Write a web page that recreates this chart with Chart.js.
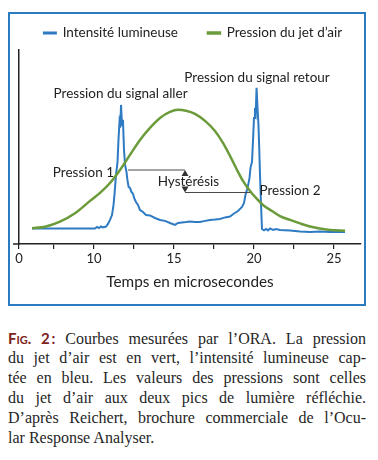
<!DOCTYPE html>
<html><head><meta charset="utf-8">
<script src="https://cdn.jsdelivr.net/npm/chart.js@4"></script>
<style>
html,body{margin:0;padding:0;background:#fff;width:378px;height:460px;overflow:hidden;position:relative;}
#frame{position:absolute;left:8px;top:12px;width:358px;height:294px;border:2px solid #2a7cc0;box-sizing:border-box;}
#wrap{position:absolute;left:0;top:-10px;width:378px;height:320px;}
#caption{position:absolute;left:8px;top:328px;width:358px;font-family:"Liberation Serif",serif;font-size:16px;line-height:20px;color:#262626;}
.ln{white-space:nowrap;text-align:justify;text-align-last:justify;height:20px;}
.last{text-align:left;text-align-last:left;}
.fig{color:#7d2320;font-weight:bold;font-family:Lato,sans-serif;font-size:15px;}
.sc{font-variant:small-caps;}
</style></head>
<body>
<div id="frame"></div>
<div id="wrap"><canvas id="c" width="378" height="320"></canvas></div>
<div id="caption">
<div class="ln"><span class="fig">F<span class="sc">ig</span>. 2&#8201;:</span> Courbes mesurées par l’ORA. La pression</div>
<div class="ln">du jet d’air est en vert, l’intensité lumineuse cap-</div>
<div class="ln">tée en bleu. Les valeurs des pressions sont celles</div>
<div class="ln">du jet d’air aux deux pics de lumière réfléchie.</div>
<div class="ln">D’après Reichert, brochure commerciale de l’Ocu-</div>
<div class="ln last">lar Response Analyser.</div>
</div>
<script>
const xTickValues = [5.3125, 7.5, 10, 12.5, 15, 17.5, 20, 22.5, 25];
const xTickLabels = ['0', '', '10', '', '15', '', '20', '', '25'];
const seriesLabels = ['Intensité lumineuse', 'Pression du jet d’air'];
const axisTitle = 'Temps en microsecondes';

const intensityTime = [6.125, 7.875, 10.06, 10.19, 10.31, 10.44, 10.56, 10.75, 10.875, 11.0, 11.125, 11.22, 11.28, 11.375, 11.47, 11.53, 11.59, 11.64, 11.69, 11.75, 11.81, 11.875, 11.94, 12.03, 12.09, 12.16, 12.25, 12.34, 12.44, 12.53, 12.625, 12.75, 12.875, 13.06, 13.25, 13.5, 13.81, 14.125, 14.44, 14.75, 15.06, 15.25, 15.5, 15.75, 16.0, 16.31, 16.625, 16.94, 17.25, 17.56, 17.875, 18.19, 18.5, 18.75, 19.0, 19.25, 19.375, 19.47, 19.56, 19.66, 19.72, 19.78, 19.875, 19.94, 20.0, 20.06, 20.11, 20.16, 20.22, 20.28, 20.33, 20.375, 20.44, 20.5, 20.625, 20.75, 20.875, 21.0, 21.19, 21.375, 21.625, 22.25, 22.875, 23.5, 24.125, 24.75, 25.69];
const intensityValue = [8.0, 8.0, 8.0, 8.8, 8.2, 9.0, 8.5, 9.0, 10.3, 12.4, 14.9, 20.1, 25.3, 35.6, 42.3, 53.6, 62.4, 59.8, 71.6, 61.3, 63.9, 48.5, 40.7, 37.1, 33.0, 29.4, 28.9, 26.8, 25.8, 23.2, 21.6, 20.1, 17.5, 16.5, 14.9, 14.7, 13.4, 12.4, 11.9, 10.8, 9.8, 10.8, 11.1, 11.3, 11.6, 11.3, 11.3, 11.9, 12.4, 12.6, 12.9, 13.7, 14.1, 15.7, 17.0, 19.1, 21.1, 25.3, 27.8, 31.4, 34.0, 39.2, 42.3, 53.6, 64.9, 70.1, 68.0, 80.4, 70.1, 61.3, 48.5, 35.6, 20.1, 7.7, 7.0, 7.7, 7.0, 8.0, 7.2, 7.7, 7.2, 7.0, 6.4, 6.2, 6.4, 6.2, 6.2];

const pressureTime = [6.125, 6.94, 7.875, 8.81, 9.75, 10.375, 11.0, 11.625, 12.25, 12.875, 13.5, 14.125, 14.75, 15.25, 15.75, 16.31, 16.94, 17.56, 18.06, 18.5, 18.94, 19.31, 19.75, 20.125, 20.56, 21.125, 21.625, 22.25, 22.875, 23.5, 24.125, 24.75, 25.69];
const pressureValue = [8.1, 8.9, 11.5, 15.8, 22.2, 26.3, 31.4, 38.1, 45.9, 53.6, 59.8, 64.9, 68.0, 69.1, 68.6, 67.0, 63.4, 58.2, 52.1, 45.4, 38.1, 32.5, 27.3, 23.7, 20.1, 17.0, 14.4, 12.4, 10.6, 9.0, 8.0, 7.2, 6.8];

const noteTexts = ['Pression du signal aller', 'Pression du signal retour', 'Pression 1', 'Pression 2', 'Hystérésis'];
const noteX = [11.66, 20.19, 9.34, 22.25, 15.9];
const noteY = [77.5, 85.7, 36.6, 27.3, 32.0];
const hystX = [12.125, 15.69, 19.75];
const hystY = [38.1, 26.5];

const BLUE = '#2f7bc3', GREEN = '#6b9b3a', INK = '#222';

const annotations = {
  id: 'annotations',
  afterDatasetsDraw(chart) {
    const {ctx, scales: {x, y}} = chart;
    ctx.save();
    ctx.strokeStyle = '#4a4a4a'; ctx.lineWidth = 1.2;
    const xa = x.getPixelForValue(hystX[0]), xm = x.getPixelForValue(hystX[1]), xb = x.getPixelForValue(hystX[2]);
    const yu = y.getPixelForValue(hystY[0]), yl = y.getPixelForValue(hystY[1]);
    ctx.beginPath();
    ctx.moveTo(xa, yu); ctx.lineTo(xm, yu);
    ctx.moveTo(xm, yl); ctx.lineTo(xb, yl);
    ctx.stroke();
    ctx.fillStyle = '#333';
    ctx.beginPath();
    ctx.moveTo(xm, yu); ctx.lineTo(xm - 3.5, yu + 6); ctx.lineTo(xm + 3.5, yu + 6); ctx.closePath();
    ctx.moveTo(xm, yl); ctx.lineTo(xm - 3.5, yl - 6); ctx.lineTo(xm + 3.5, yl - 6); ctx.closePath();
    ctx.fill();
    ctx.fillStyle = INK;
    ctx.font = '13.5px Lato';
    ctx.textAlign = 'center'; ctx.textBaseline = 'middle';
    noteTexts.forEach((t, i) => ctx.fillText(t, x.getPixelForValue(noteX[i]), y.getPixelForValue(noteY[i])));
    // short extension of the x axis line to the left of the y axis
    ctx.strokeStyle = INK; ctx.lineWidth = 1.5;
    ctx.beginPath();
    ctx.moveTo(chart.chartArea.left - 6, chart.chartArea.bottom);
    ctx.lineTo(chart.chartArea.left, chart.chartArea.bottom);
    ctx.stroke();
    ctx.restore();
  }
};

new Chart(document.getElementById('c'), {
  type: 'line',
  data: {
    datasets: [
      {label: seriesLabels[0], data: intensityTime.map((t, i) => ({x: t, y: intensityValue[i]})),
       borderColor: BLUE, backgroundColor: BLUE, borderWidth: 2, pointRadius: 0, tension: 0, order: 1},
      {label: seriesLabels[1], data: pressureTime.map((t, i) => ({x: t, y: pressureValue[i]})),
       borderColor: GREEN, backgroundColor: GREEN, borderWidth: 2.5, pointRadius: 0, cubicInterpolationMode: 'monotone', order: 0}
    ]
  },
  options: {
    responsive: false, animation: false, devicePixelRatio: 1,
    layout: {padding: {left: 8, right: 0, top: 6.25, bottom: 18.4}},
    plugins: {
      legend: {display: true, position: 'top',
        labels: {boxWidth: 12, boxHeight: 1, padding: 30, color: INK, font: {family: 'Lato', size: 13.5},
          sort: (a, b) => a.datasetIndex - b.datasetIndex}},
      tooltip: {enabled: false}
    },
    scales: {
      x: {type: 'linear', min: 5.3125, max: 26.6875,
        afterBuildTicks(s) { s.ticks = xTickValues.map(v => ({value: v})); },
        ticks: {autoSkip: false, maxRotation: 0, padding: 2, color: INK, font: {family: 'Lato', size: 13},
          callback: (v, i) => xTickLabels[i]},
        grid: {display: true, drawOnChartArea: false, drawTicks: true, tickLength: 5, color: INK, lineWidth: 1.2},
        border: {display: true, color: INK, width: 1.5},
        title: {display: true, text: axisTitle, color: INK, font: {family: 'Lato', size: 15.3}, padding: {top: 0, bottom: 0}},
        afterFit(s) { s.height = 47.6; }
      },
      y: {min: 0, max: 100, ticks: {display: false}, grid: {display: false, drawTicks: false},
        border: {display: true, color: INK, width: 1.5},
        afterFit(s) { s.width = 11; }
      },
      yRight: {position: 'right', min: 0, max: 100, ticks: {display: false}, grid: {display: false, drawTicks: false},
        border: {display: false},
        afterFit(s) { s.width = 17; }
      }
    }
  },
  plugins: [annotations]
});
</script>
</body></html>
